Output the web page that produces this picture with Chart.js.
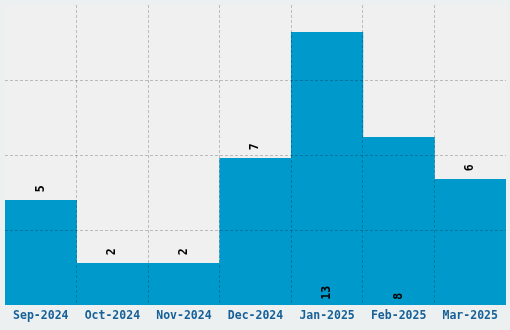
<!DOCTYPE html>
<html>
<head>
<meta charset="utf-8">
<script src="https://cdn.jsdelivr.net/npm/chart.js@4"></script>
<style>
html,body{margin:0;padding:0;background:#ecf0f1;}
canvas{display:block;}
</style>
</head>
<body>
<canvas id="c" width="510" height="330"></canvas>
<script>
const categories = ['Sep-2024','Oct-2024','Nov-2024','Dec-2024','Jan-2025','Feb-2025','Mar-2025'];
const values = [5, 2, 2, 7, 13, 8, 6];
const yMax = 14.3;
const yStep = yMax / 4;

const bgPlugin = {
  id: 'plotBg',
  beforeDraw(chart) {
    const {ctx, chartArea: a} = chart;
    ctx.save();
    ctx.fillStyle = '#f0f0f0';
    ctx.fillRect(a.left, a.top, a.right - a.left, a.bottom - a.top);
    ctx.restore();
  }
};

const labelPlugin = {
  id: 'valLabels',
  afterDraw(chart) {
    const {ctx} = chart;
    const meta = chart.getDatasetMeta(0);
    ctx.save();
    ctx.font = 'bold 11.5px "DejaVu Sans Mono", monospace';
    ctx.fillStyle = '#000000';
    ctx.textAlign = 'left';
    ctx.textBaseline = 'middle';
    meta.data.forEach((bar, i) => {
      const v = values[i];
      let y;
      if (v >= 8) y = bar.base - 5; else y = bar.y - 8;
      ctx.save();
      ctx.translate(bar.x, y);
      ctx.rotate(-Math.PI / 2);
      ctx.fillText(String(v), 0, 0);
      ctx.restore();
    });
    ctx.restore();
  }
};

const gridCol = 'rgba(0,0,0,0.22)';
const clear = 'rgba(0,0,0,0)';

new Chart(document.getElementById('c'), {
  type: 'bar',
  data: {
    labels: categories,
    datasets: [{
      data: values,
      backgroundColor: '#0099cc',
      borderWidth: 0,
      categoryPercentage: 1,
      barPercentage: 1
    }]
  },
  options: {
    responsive: false,
    animation: false,
    devicePixelRatio: 1,
    layout: {padding: {left: 5, right: 4, top: 5, bottom: 3}},
    plugins: {legend: {display: false}, tooltip: {enabled: false}},
    scales: {
      x: {
        grid: {
          z: 1,
          drawTicks: false,
          lineWidth: 1,
          color: (ctx) => (ctx.type !== 'tick' || ctx.index === 0 || ctx.index >= categories.length) ? clear : gridCol
        },
        border: {display: false, dash: [3, 2]},
        ticks: {
          padding: 4,
          color: '#176199',
          font: {family: '"DejaVu Sans Mono", monospace', size: 11.5, weight: 'bold'}
        }
      },
      y: {
        min: 0,
        max: yMax,
        grid: {
          z: 1,
          drawTicks: false,
          lineWidth: 1,
          color: (ctx) => (!ctx.tick || ctx.tick.value <= 0.001 || ctx.tick.value >= yMax - 0.001) ? clear : gridCol
        },
        border: {display: false, dash: [3, 2]},
        ticks: {display: false, stepSize: yStep}
      }
    }
  },
  plugins: [bgPlugin, labelPlugin]
});
</script>
</body>
</html>
